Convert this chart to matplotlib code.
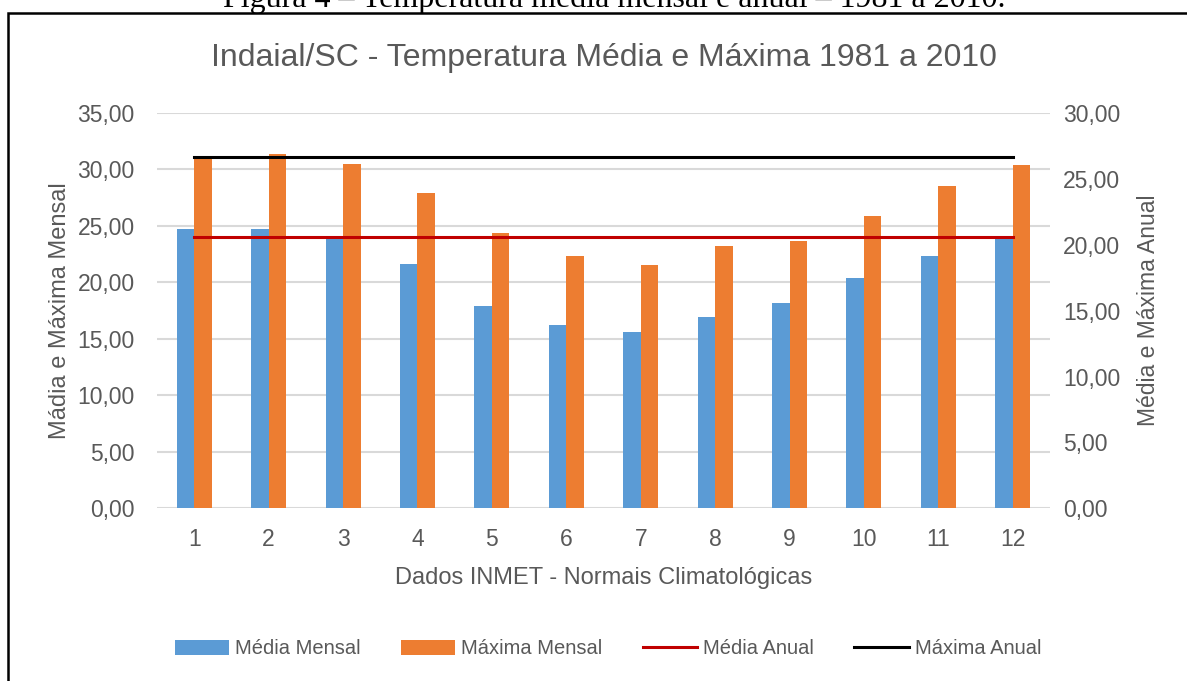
import matplotlib
matplotlib.use("Agg")
import matplotlib.pyplot as plt
from matplotlib import font_manager
from matplotlib.patches import Rectangle
import numpy as np

meses = list(range(1, 13))
media_mensal = [24.7, 24.7, 24.0, 21.6, 17.9, 16.2, 15.6, 16.9, 18.2, 20.4, 22.3, 23.9]
maxima_mensal = [31.1, 31.35, 30.5, 27.9, 24.4, 22.3, 21.5, 23.2, 23.7, 25.9, 28.5, 30.4]
media_anual = 20.6
maxima_anual = 26.65

names = {f.name for f in font_manager.fontManager.ttflist}
narrow = "Liberation Sans Narrow" if "Liberation Sans Narrow" in names else "Liberation Sans"
plt.rcParams['font.family'] = [narrow, 'DejaVu Sans']

cinza = "#595959"
grade = "#D9D9D9"

fig = plt.figure(figsize=(11.87, 6.81), dpi=100)
ax = fig.add_axes([157 / 1187, 1 - 508.3 / 681, (1050 - 157) / 1187, (508.3 - 113) / 681])

x = np.arange(len(meses))
w = 0.235
ax.bar(x - w / 2, media_mensal, w, color="#5B9BD5", label="Média Mensal", zorder=2)
ax.bar(x + w / 2, maxima_mensal, w, color="#ED7D31", label="Máxima Mensal", zorder=2)
ax.set_xlim(-0.5, len(meses) - 0.5)
ax.set_ylim(0, 35)
ax.set_yticks(np.arange(0, 36, 5))
ax.set_yticklabels([f"{v:.2f}".replace(".", ",") for v in np.arange(0, 36, 5)])
ax.set_xticks(x)
ax.set_xticklabels([str(m) for m in meses])
ax.grid(axis="y", color=grade, linewidth=1.5, zorder=0)
ax.set_axisbelow(True)
for s in ax.spines.values():
    s.set_visible(False)
ax.tick_params(length=0, labelsize=16.5, colors=cinza)
ax.tick_params(axis="y", pad=16)
ax.tick_params(axis="x", pad=14)
ax.set_ylabel("Mádia e Máxima Mensal", fontsize=17, color=cinza)
ax.yaxis.set_label_coords(-0.1086, 0.5)
ax.yaxis.label.set_va("center")
ax.set_xlabel("Dados INMET - Normais Climatológicas", fontsize=17, color=cinza)
ax.xaxis.set_label_coords(0.5, -0.176)
ax.xaxis.label.set_va("center")

ax2 = ax.twinx()
ax2.plot(x, [media_anual] * len(meses), color="#C00000", linewidth=2.2, label="Média Anual")
ax2.plot(x, [maxima_anual] * len(meses), color="#000000", linewidth=2.2, label="Máxima Anual")
ax2.set_ylim(0, 30)
ax2.set_yticks(np.arange(0, 31, 5))
ax2.set_yticklabels([f"{v:.2f}".replace(".", ",") for v in np.arange(0, 31, 5)])
for s in ax2.spines.values():
    s.set_visible(False)
ax2.tick_params(length=0, labelsize=16.5, colors=cinza, pad=9.5)
ax2.set_ylabel("Média e Máxima Anual", fontsize=16.5, color=cinza)
ax2.yaxis.set_label_coords(1.1098, 0.5)
ax2.yaxis.label.set_va("center")

fig.text(604 / 1187, 1 - 58 / 681, "Indaial/SC - Temperatura Média e Máxima 1981 a 2010",
         ha="center", va="center", fontsize=23, color=cinza)

h1, l1 = ax.get_legend_handles_labels()
h2, l2 = ax2.get_legend_handles_labels()
fig.legend(h1 + h2, l1 + l2, loc="center", bbox_to_anchor=(608 / 1187, 1 - 649 / 681),
           ncol=4, frameon=False, fontsize=14.5, labelcolor=cinza, handlelength=2.7,
           handleheight=0.8, columnspacing=2.0, handletextpad=0.3)

# moldura e legenda da figura
fig.patches.append(Rectangle((8 / 1187, -0.1), 1.2, 1.1 - 13 / 681, transform=fig.transFigure,
                             fill=False, edgecolor="black", linewidth=1.8))
fig.text(614 / 1187, 1 - 7 / 681, "Figura 4 – Temperatura média mensal e anual – 1981 a 2010.",
         ha="center", va="baseline", fontsize=23, family=["Liberation Serif", "DejaVu Serif"], color="black")

fig.savefig("out.png", dpi=100)
